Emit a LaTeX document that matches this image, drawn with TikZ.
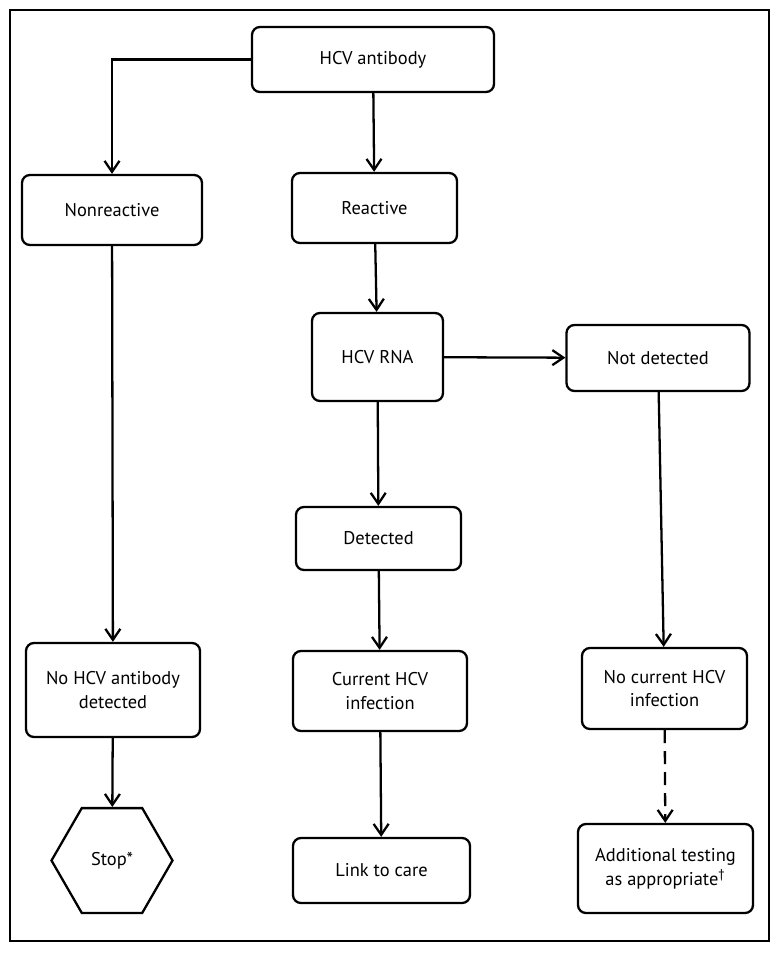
\documentclass[tikz,border=0pt]{standalone}
\usepackage{fontspec}
\setmainfont{PT Sans}
\usetikzlibrary{shapes.geometric, arrows.meta, positioning, calc}
\tikzset{
  stepbox/.style={
    draw, rounded corners=4.5pt, line width=1.3pt, align=center,
    font=\fontsize{10.5}{13.5}\selectfont, fill=white, inner sep=2pt
  },
  stopbox/.style={
    draw, regular polygon, regular polygon sides=6, line width=1.3pt,
    minimum size=2.42cm, inner sep=0pt, font=\fontsize{10.5}{13.5}\selectfont
  },
  flowarrow/.style={
    -{Straight Barb[length=2.2mm, width=3mm]}, line width=1.3pt
  },
  maybearrow/.style={
    flowarrow, dash pattern=on 0.26cm off 0.16cm
  },
}

\begin{document}
\begin{tikzpicture}[x=0.02cm, y=-0.02cm]
  \useasboundingbox (0,0) rectangle (781,953);
  \draw[line width=1.3pt] (10,10) rectangle (769,941);

  % -- Steps --
  \node[stepbox, minimum width=4.84cm, minimum height=1.30cm] (antibody) at (373,59.5) {HCV antibody};
  \node[stepbox, minimum width=3.6cm, minimum height=1.4cm] (nonreactive) at (112,210) {Nonreactive};
  \node[stepbox, minimum width=3.3cm, minimum height=1.4cm] (reactive) at (374.5,208) {Reactive};
  \node[stepbox, minimum width=2.62cm, minimum height=1.76cm] (rna) at (377.5,357) {HCV RNA};
  \node[stepbox, minimum width=3.66cm, minimum height=1.32cm] (notdetected) at (658,358) {Not detected};
  \node[stepbox, minimum width=3.3cm, minimum height=1.26cm] (detected) at (378.5,538.5) {Detected};
  \node[stepbox, minimum width=3.48cm, minimum height=1.6cm] (current) at (380,691) {Current HCV\\infection};
  \node[stepbox, minimum width=3.54cm, minimum height=1.3cm] (care) at (381.5,870.5) {Link to care};
  \node[stepbox, minimum width=3.48cm, minimum height=1.88cm] (noantibody) at (113,690) {No HCV antibody\\detected};
  \node[stopbox] (stop) at (112,860.5) {Stop*};
  \node[stepbox, minimum width=3.3cm, minimum height=1.62cm] (nocurrent) at (664.5,688.5) {No current HCV\\infection};
  \node[stepbox, minimum width=3.5cm, minimum height=1.78cm] (additional) at (665.5,868.5) {Additional testing\\as appropriate\textsuperscript{†}};

  % -- Connectors --
  \draw[flowarrow] (antibody.west) -| (nonreactive.north);
  \draw[flowarrow] (antibody) -- (reactive);
  \draw[flowarrow] (reactive) -- (rna);
  \draw[flowarrow] (rna) -- (notdetected);
  \draw[flowarrow] (rna) -- (detected);
  \draw[flowarrow] (detected) -- (current);
  \draw[flowarrow] (current) -- (care);
  \draw[flowarrow] (nonreactive) -- (noantibody);
  \draw[flowarrow] (noantibody) -- (stop);
  \draw[flowarrow] (notdetected) -- (nocurrent);
  \draw[maybearrow] (nocurrent) -- (additional);
\end{tikzpicture}
\end{document}
